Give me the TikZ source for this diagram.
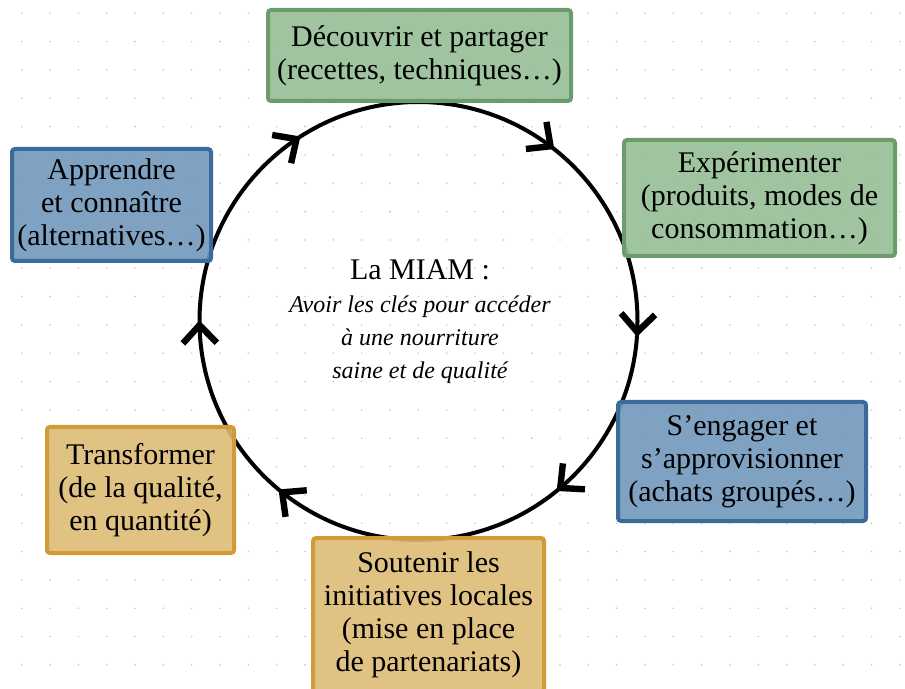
\documentclass[tikz,border=0pt]{standalone}
\usepackage{fontspec}
\setmainfont{Liberation Serif}
\usetikzlibrary{decorations.markings}

\definecolor{vert}{HTML}{96BD96}
\definecolor{vertbord}{HTML}{6B9D6B}
\definecolor{bleu}{HTML}{7198BB}
\definecolor{bleubord}{HTML}{3A6B9A}
\definecolor{ocre}{HTML}{DDBB76}
\definecolor{ocrebord}{HTML}{D39A37}

\newcommand{\chevron}{\draw[line width=3.2pt, line join=miter, line cap=butt] (-9pt,8.5pt) -- (0pt,0pt) -- (-9pt,-8.5pt);}

\begin{document}
\begin{tikzpicture}[x=0.5pt, y=-0.5pt,
boite/.style={draw, line width=2pt, rounded corners=1.5pt, fill opacity=0.9, text opacity=1,
  align=center, inner sep=0pt, font=\fontsize{15}{16.5}\selectfont},
vertbox/.style={boite, fill=vert, draw=vertbord},
bleubox/.style={boite, fill=bleu, draw=bleubord},
ocrebox/.style={boite, fill=ocre, draw=ocrebord},
taille/.style 2 args={minimum width=#1, minimum height=#2},
fleches/.style={line width=2pt, decoration={markings,
  mark=at position 0.103 with {\chevron},
  mark=at position 0.258 with {\chevron},
  mark=at position 0.388 with {\chevron},
  mark=at position 0.607 with {\chevron},
  mark=at position 0.747 with {\chevron},
  mark=at position 0.906 with {\chevron}}, postaction={decorate}}]

\useasboundingbox (0,0) rectangle (905,689);
\clip (0,0) rectangle (905,689);

\foreach \i in {0,...,31}{
  \foreach \j in {0,...,24}{ \fill[black!22] (21.7+28.33*\i, 13.3+28.33*\j) circle[radius=0.45pt]; }
}

\coordinate (centre) at (418.5,321);
\draw[fleches] (centre) ++(90:109.5pt) arc[start angle=90, end angle=-270, radius=109.5pt];

\node (miam) at (420,322) [align=center, font=\itshape\fontsize{12}{16.5}\selectfont]
  {{\upshape\fontsize{15}{16.5}\selectfont La MIAM :}\\Avoir les clés pour accéder\\à une nourriture\\saine et de qualité};

\node (decouvrir) at (419.5,55.5) [vertbox, taille={151.5pt}{45.5pt}]
  {Découvrir et partager\\(recettes, techniques…)};
\node (experimenter) at (759.5,198) [vertbox, taille={135.5pt}{58pt}]
  {Expérimenter\\(produits, modes de\\consommation…)};
\node (apprendre) at (111.5,205) [bleubox, taille={99.5pt}{56pt}]
  {Apprendre\\et connaître\\(alternatives…)};
\node (engager) at (742,461.5) [bleubox, taille={124pt}{59.5pt}]
  {S’engager et\\s’approvisionner\\(achats groupés…)};
\node (transformer) at (140.5,490) [ocrebox, taille={93.5pt}{63pt}]
  {Transformer\\(de la qualité,\\en quantité)};
\node (soutenir) at (428.5,615) [ocrebox, taille={115.5pt}{77pt}]
  {Soutenir les\\initiatives locales\\(mise en place\\de partenariats)};

\end{tikzpicture}
\end{document}
